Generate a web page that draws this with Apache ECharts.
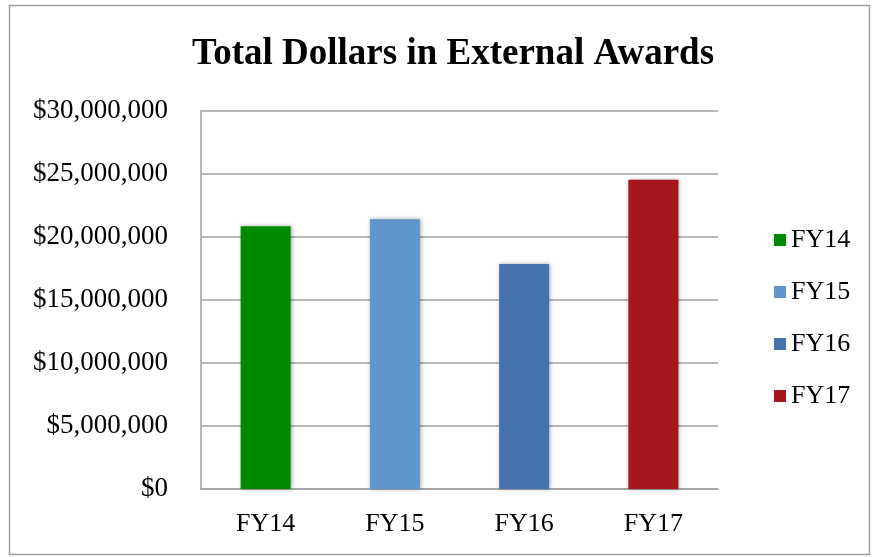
<!DOCTYPE html>
<html>
<head>
<meta charset="utf-8">
<script src="https://cdn.jsdelivr.net/npm/echarts@6/dist/echarts.min.js"></script>
<style>
  html, body { margin: 0; padding: 0; background: #fff; }
  #chart { width: 876px; height: 557px; }
</style>
</head>
<body>
<div id="chart"></div>
<script>
const categories = ["FY14", "FY15", "FY16", "FY17"];
const awards = [20850000, 21400000, 17850000, 24550000];
const barColors = ["#008a00", "#6096cb", "#4672b0", "#a5161f"];

const font = "'Liberation Serif', serif";

// one series per year so the legend lists each year with its colour
const series = categories.map((name, i) => ({
  name,
  type: "bar",
  stack: "years",
  barWidth: 50,
  data: categories.map((c, j) => (j === i ? awards[i] : "-")),
  itemStyle: {
    color: barColors[i],
    shadowBlur: 4,
    shadowColor: "rgba(0,0,0,0.35)",
    shadowOffsetX: 1,
    shadowOffsetY: 0,
  },
}));

const chart = echarts.init(document.getElementById("chart"));

chart.setOption({
  animation: false,
  title: {
    text: "Total Dollars in External Awards",
    left: 448,
    textAlign: "center",
    top: 31,
    textStyle: {
      fontFamily: font,
      fontWeight: "bold",
      fontSize: 37,
      color: "#000",
    },
  },
  graphic: [
    {
      type: "rect",
      shape: { x: 9.5, y: 5.5, width: 860, height: 549 },
      style: { fill: "none", stroke: "#a0a0a0", lineWidth: 1.5 },
      silent: true,
    },
  ],
  legend: {
    orient: "vertical",
    left: 769,
    top: 222,
    itemWidth: 12,
    itemHeight: 12,
    itemGap: 26,
    icon: "rect",
    textStyle: {
      fontFamily: font,
      fontSize: 26,
      color: "#000",
    },
  },
  grid: {
    left: 201,
    right: 158,
    top: 111,
    bottom: 68,
  },
  xAxis: {
    type: "category",
    data: categories,
    axisTick: { show: false },
    axisLine: { lineStyle: { color: "#a0a0a0", width: 1.5 } },
    axisLabel: {
      fontFamily: font,
      fontSize: 26,
      color: "#000",
      margin: 22,
    },
  },
  yAxis: {
    type: "value",
    min: 0,
    max: 30000000,
    interval: 5000000,
    axisLine: { show: true, lineStyle: { color: "#a0a0a0", width: 1.5 } },
    axisTick: { show: false },
    splitLine: { lineStyle: { color: "#a0a0a0", width: 1.5 } },
    axisLabel: {
      fontFamily: font,
      fontSize: 27,
      color: "#000",
      margin: 33,
      formatter: (v) => "$" + v.toLocaleString("en-US"),
    },
  },
  series,
});
</script>
</body>
</html>
